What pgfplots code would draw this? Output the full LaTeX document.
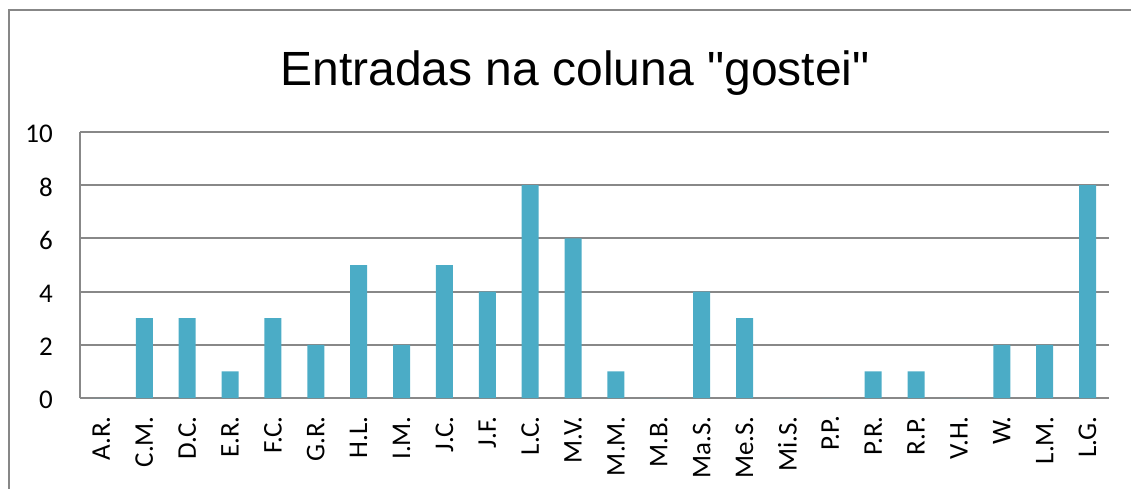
\documentclass[border=0pt]{standalone}
\usepackage{pgfplots}
\pgfplotsset{compat=1.18}
\usepackage{fontspec}
\setmainfont{Carlito}
\newfontfamily\titlefont{Liberation Sans}
\newcommand\tickfont{\fontsize{27pt}{29pt}\selectfont}
\usetikzlibrary{calc}
\definecolor{barblue}{HTML}{4BACC6}
\definecolor{gridgray}{HTML}{888888}
\definecolor{framegray}{HTML}{878787}

\begin{document}
\begin{tikzpicture}
    \begin{axis}[
        scale only axis,
        width=1029pt, height=266pt,
        ybar, bar width=17pt,
        xmin=-0.5, xmax=23.5,
        ymin=0, ymax=10,
        ytick={0,2,4,6,8,10},
        xtick=data,
        xticklabels={A.R., C.M., D.C., E.R., F.C., G.R., H.L., I.M., J.C., J.F., L.C., M.V., M.M., M.B., Ma.S., Me.S., Mi.S., P.P., P.R., R.P., V.H., W., L.M., L.G.},
        axis lines*=left,
        axis line style={gridgray, line width=2pt},
        ymajorgrids,
        grid style={gridgray, line width=2pt},
        major tick length=0pt,
        every tick label/.append style={font=\tickfont, inner sep=0pt},
        /pgf/number format/assume math mode=true,
        yticklabel style={font=\tickfont, anchor=east, xshift=-27pt, yshift=-2pt},
        xticklabel style={font=\tickfont, rotate=90, anchor=east, xshift=-18pt},
        clip=false,
    ]
        % Entradas por pessoa
        \addplot[fill=barblue, draw=none] coordinates {
            (0,0) (1,3) (2,3) (3,1) (4,3) (5,2) (6,5) (7,2)
            (8,5) (9,4) (10,8) (11,6) (12,1) (13,0) (14,4) (15,3)
            (16,0) (17,0) (18,1) (19,1) (20,0) (21,2) (22,2) (23,8)};
        \coordinate (ll) at (rel axis cs:0,0);
        \coordinate (ur) at (rel axis cs:1,1);
    \end{axis}
    \useasboundingbox ($(ll)+(-80pt,-90pt)$) rectangle ($(ur)+(22pt,132pt)$);
    \draw[framegray, line width=2pt] ($(ll)+(-70.5pt,-100pt)$) |- ($(ur)+(40pt,122pt)$);
    \node[anchor=base, font=\titlefont\fontsize{48}{48}\selectfont]
        at ($(ll)+(495pt,313pt)$) {Entradas na coluna "gostei"};
\end{tikzpicture}
\end{document}
